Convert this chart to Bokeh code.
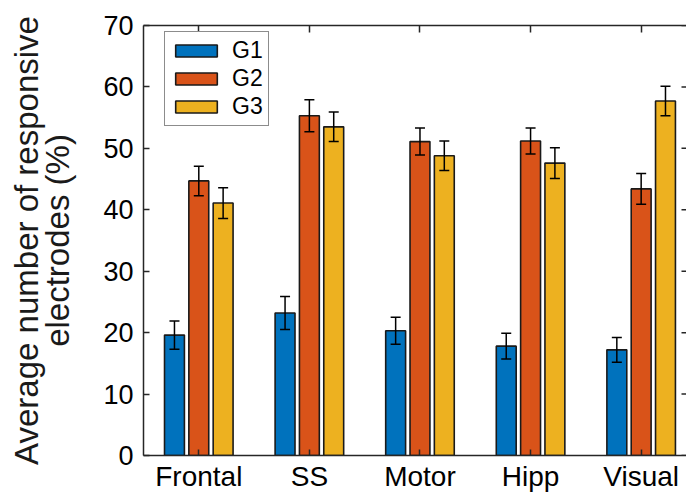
import math
from bokeh.plotting import figure
from bokeh.models import (ColumnDataSource, Whisker, TeeHead, LinearAxis, FixedTicker,
                          Legend, LegendItem, Range1d)
from bokeh.embed import file_html
from bokeh.resources import INLINE

# ---- data ----
regions = ["Frontal", "SS", "Motor", "Hipp", "Visual"]
groups = ["G1", "G2", "G3"]
g1 = [19.6, 23.2, 20.3, 17.8, 17.2]
g2 = [44.7, 55.3, 51.1, 51.2, 43.4]
g3 = [41.1, 53.5, 48.8, 47.6, 57.7]
g1_err = [2.3, 2.7, 2.2, 2.1, 2.0]
g2_err = [2.4, 2.6, 2.2, 2.1, 2.5]
g3_err = [2.5, 2.4, 2.4, 2.5, 2.4]
y_ticks = [0, 10, 20, 30, 40, 50, 60, 70]
y_label = "Average number of responsive\nelectrodes (%)"

colors = ["#0072BD", "#D95319", "#EDB120"]
offsets = [-0.22, 0.0, 0.22]
bar_w = 0.18
FONT = "Liberation Sans"
AX = "#262626"
X0, X1 = 0.5, 5.41
Y0, Y1 = 0, 70

p = figure(width=686, height=494, output_backend="svg", toolbar_location=None,
           x_range=Range1d(X0, X1), y_range=Range1d(Y0, Y1),
           min_border_left=143, min_border_top=25, min_border_bottom=36, min_border_right=0)
p.xgrid.visible = False
p.ygrid.visible = False
p.outline_line_color = None

base = list(range(1, len(regions) + 1))
series = [(g1, g1_err), (g2, g2_err), (g3, g3_err)]
items = []
for k, (vals, errs) in enumerate(series):
    xs = [b + offsets[k] for b in base]
    src = ColumnDataSource(dict(x=xs, top=vals,
                                upper=[v + e for v, e in zip(vals, errs)],
                                lower=[v - e for v, e in zip(vals, errs)]))
    r = p.vbar(x="x", top="top", bottom=0, width=bar_w, source=src,
               fill_color=colors[k], line_color="#1a1a1a", line_width=1.6)
    items.append(LegendItem(label=groups[k], renderers=[r]))
    w = Whisker(base="x", upper="upper", lower="lower", source=src, dimension="height",
                line_color="black", line_width=1.5, level="overlay",
                upper_head=TeeHead(size=10, line_color="black", line_width=1.5),
                lower_head=TeeHead(size=10, line_color="black", line_width=1.5))
    p.add_layout(w)

# right-border tick marks (pointing inward)
p.ray(x=[X1] * len(y_ticks), y=y_ticks, length=5, length_units="screen",
      angle=math.pi, line_color=AX, line_width=1.5)

# axes
xa = p.xaxis[0]
xa.ticker = FixedTicker(ticks=base)
xa.major_label_overrides = {i + 1: regions[i] for i in range(len(regions))}
ya = p.yaxis[0]
ya.ticker = FixedTicker(ticks=y_ticks)
ya.axis_label = y_label

top = LinearAxis(ticker=FixedTicker(ticks=base),
                 major_label_overrides={b: "" for b in base},
                 major_label_standoff=0)
p.add_layout(top, "above")

for ax in (xa, ya, top):
    ax.axis_line_color = AX
    ax.axis_line_width = 1.5
    ax.major_tick_line_color = AX
    ax.major_tick_line_width = 1.5
    ax.major_tick_in = 6
    ax.major_tick_out = 0
    ax.minor_tick_line_color = None
    ax.major_label_text_font = FONT
    ax.major_label_text_color = "black"
top.major_tick_in = 7

xa.major_label_text_font_size = "28px"
ya.major_label_text_font_size = "27px"
xa.major_label_standoff = 5
ya.major_label_standoff = 10
ya.axis_label_text_font = FONT
ya.axis_label_text_font_size = "33px"
ya.axis_label_text_font_style = "normal"
ya.axis_label_text_color = "#1a1a1a"
ya.axis_label_text_line_height = 0.85
ya.axis_label_standoff = 24

leg = Legend(items=items, location=(21, 329), orientation="vertical")
leg.glyph_width = 52
leg.glyph_height = 15
leg.label_text_font = FONT
leg.label_text_font_size = "23px"
leg.label_text_color = "black"
leg.label_standoff = 10
leg.spacing = 1
leg.padding = 5
leg.margin = 0
leg.border_line_color = "#1a1a1a"
leg.border_line_width = 1.5
leg.background_fill_alpha = 1
p.add_layout(leg)

open("out.html", "w").write(file_html(p, INLINE))
